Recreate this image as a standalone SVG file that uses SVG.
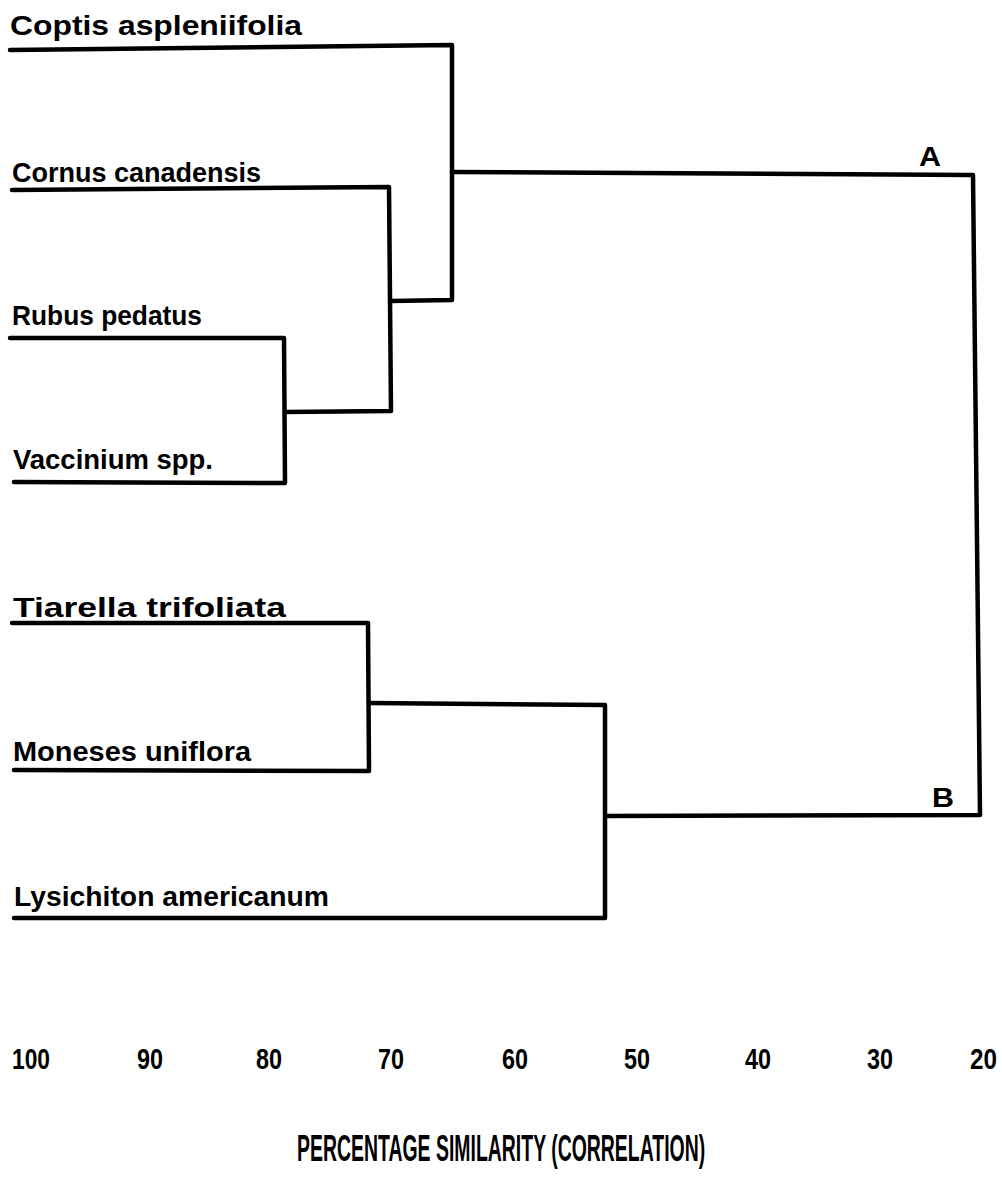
<svg xmlns="http://www.w3.org/2000/svg" width="1002" height="1201" viewBox="0 0 1002 1201">
<style>
.bg{fill:#fff}
.ln{fill:none;stroke:#000;stroke-width:4.5;stroke-linecap:round;stroke-linejoin:round}
.sp{font-family:"Liberation Sans",Arial,sans-serif;font-size:28px;font-weight:bold;fill:#000}
.cl{font-family:"Liberation Sans",Arial,sans-serif;font-size:28px;font-weight:900;fill:#000}
.tk{font-family:"Liberation Sans",Arial,sans-serif;font-size:30px;font-weight:bold;fill:#000}
.tt{font-family:"Liberation Sans",Arial,sans-serif;font-size:37px;font-weight:bold;fill:#000}
</style>
<rect class="bg" x="0" y="0" width="1002" height="1201"/>
<g id="connectors">
<path class="ln" d="M10,50 L452,45 L452,300 L390,301"/>
<path class="ln" d="M12,190 L389,187 L391,411 L285,412"/>
<path class="ln" d="M10,338 L284,338 L285,483 L14,482"/>
<path class="ln" d="M452,172 L973,175 L980,815 L606,816"/>
<path class="ln" d="M12,623 L368,623 L369,771 L14,770"/>
<path class="ln" d="M369,703 L605,705 L605,918 L14,918"/>
</g>
<g id="leaf-coptis"><text class="sp" x="10" y="35" textLength="292" lengthAdjust="spacingAndGlyphs">Coptis aspleniifolia</text></g>
<g id="leaf-cornus"><text class="sp" x="12" y="182" textLength="249" lengthAdjust="spacingAndGlyphs">Cornus canadensis</text></g>
<g id="leaf-rubus"><text class="sp" x="12" y="325" textLength="190" lengthAdjust="spacingAndGlyphs">Rubus pedatus</text></g>
<g id="leaf-vaccinium"><text class="sp" x="13" y="469" textLength="200" lengthAdjust="spacingAndGlyphs">Vaccinium spp.</text></g>
<g id="leaf-tiarella"><text class="sp" x="13" y="617" textLength="273" lengthAdjust="spacingAndGlyphs">Tiarella trifoliata</text></g>
<g id="leaf-moneses"><text class="sp" x="13" y="761" textLength="238" lengthAdjust="spacingAndGlyphs">Moneses uniflora</text></g>
<g id="leaf-lysichiton"><text class="sp" x="14" y="906" textLength="315" lengthAdjust="spacingAndGlyphs">Lysichiton americanum</text></g>
<g id="cluster-A"><text class="cl" x="919" y="166" textLength="22" lengthAdjust="spacingAndGlyphs">A</text></g>
<g id="cluster-B"><text class="cl" x="932" y="807" textLength="22" lengthAdjust="spacingAndGlyphs">B</text></g>
<g id="axis">
<text class="tk" x="12" y="1069" textLength="38" lengthAdjust="spacingAndGlyphs">100</text>
<text class="tk" x="137" y="1069" textLength="26" lengthAdjust="spacingAndGlyphs">90</text>
<text class="tk" x="256" y="1069" textLength="26" lengthAdjust="spacingAndGlyphs">80</text>
<text class="tk" x="378" y="1069" textLength="26" lengthAdjust="spacingAndGlyphs">70</text>
<text class="tk" x="502" y="1069" textLength="26" lengthAdjust="spacingAndGlyphs">60</text>
<text class="tk" x="624" y="1069" textLength="26" lengthAdjust="spacingAndGlyphs">50</text>
<text class="tk" x="745" y="1069" textLength="26" lengthAdjust="spacingAndGlyphs">40</text>
<text class="tk" x="867" y="1069" textLength="26" lengthAdjust="spacingAndGlyphs">30</text>
<text class="tk" x="970" y="1069" textLength="27" lengthAdjust="spacingAndGlyphs">20</text>
<text class="tt" transform="translate(297,1161) scale(0.52,1)" x="0" y="0" textLength="785" lengthAdjust="spacingAndGlyphs">PERCENTAGE SIMILARITY (CORRELATION)</text>
</g>
</svg>
